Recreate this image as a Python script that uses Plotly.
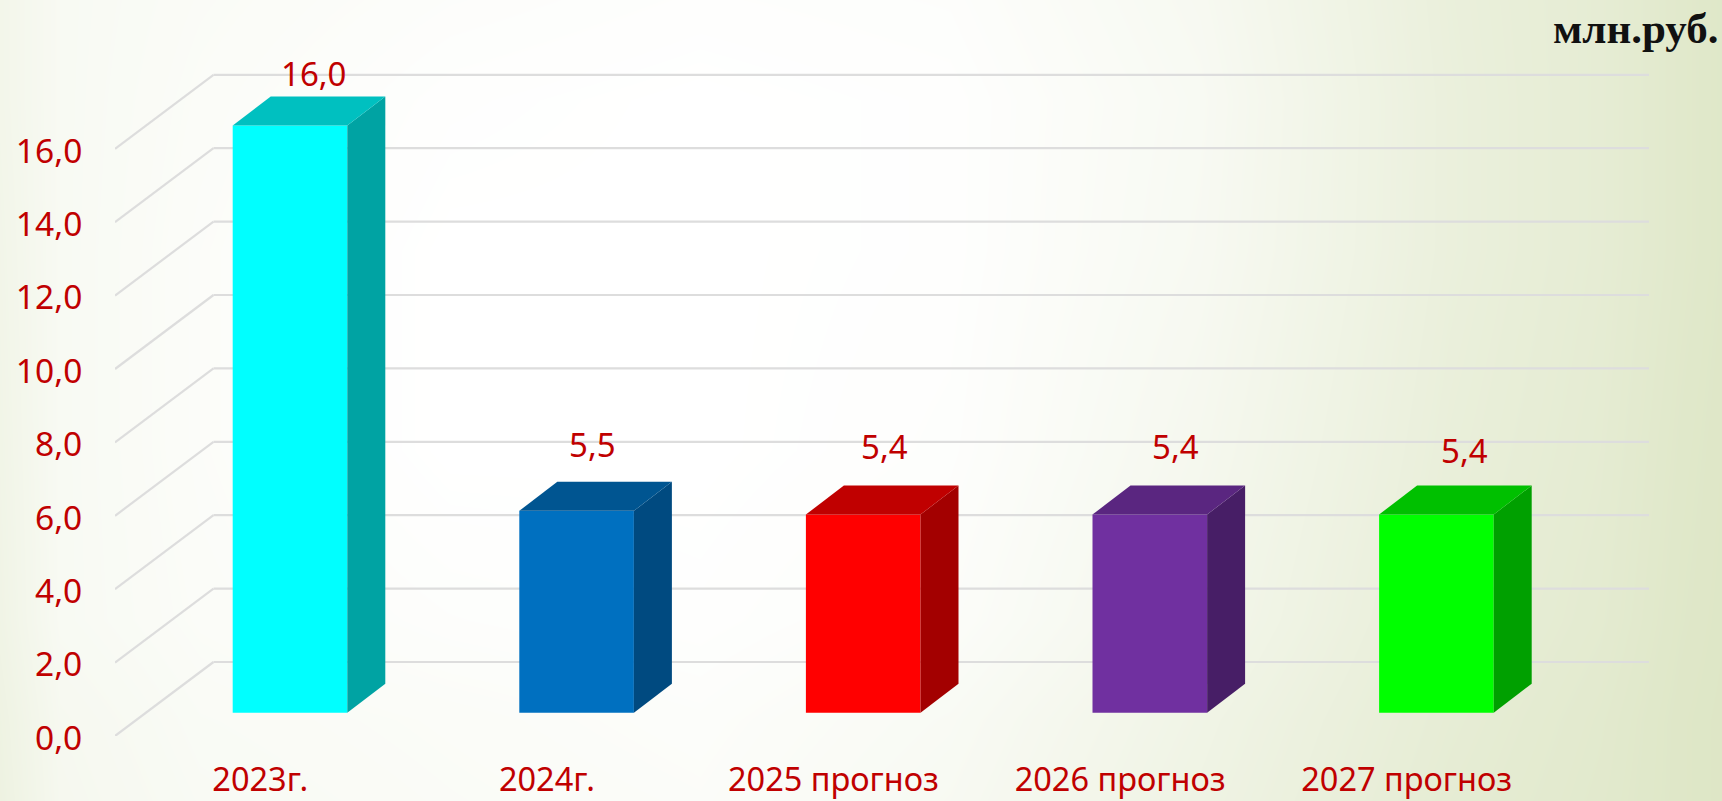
import plotly.graph_objects as go

# ---- data ----
categories = ["2023г.", "2024г.", "2025 прогноз", "2026 прогноз", "2027 прогноз"]
values = [16.0, 5.5, 5.4, 5.4, 5.4]
value_labels = ["16,0", "5,5", "5,4", "5,4", "5,4"]
y_ticks = [0, 2, 4, 6, 8, 10, 12, 14, 16]
y_tick_labels = ["0,0", "2,0", "4,0", "6,0", "8,0", "10,0", "12,0", "14,0", "16,0"]

# ---- styles ----
front_colors = ["#00ffff", "#0070c0", "#ff0000", "#7030a0", "#00ff00"]
top_colors = ["#00c0c0", "#005591", "#c00000", "#5a2680", "#00c000"]
side_colors = ["#00a3a3", "#004a80", "#a30000", "#471e66", "#00a000"]
label_dx = [23, 16, 21, 26, 28]
label_dy = [52, 66, 68, 68, 64]
TEXT_RED = "#c00000"
FONT = "Noto Sans"
W, H = 1722, 801

# background tint levels (0 = white, 1 = darkest green)
bg_x = [-60, 60, 200, 450, 700, 950, 1200, 1450, 1600, 1680, 1790]
bg_y = [-60, 100, 250, 450, 620, 720, 860]
bg_levels = [
    [0.50, 0.20, 0.15, 0.10, 0.06, 0.08, 0.25, 0.60, 0.72, 0.85, 1.00],
    [0.50, 0.20, 0.12, 0.03, 0.00, 0.03, 0.20, 0.58, 0.72, 0.85, 1.00],
    [0.55, 0.20, 0.10, 0.00, 0.00, 0.03, 0.22, 0.58, 0.72, 0.85, 1.00],
    [0.60, 0.20, 0.10, 0.00, 0.00, 0.05, 0.28, 0.62, 0.75, 0.88, 1.00],
    [0.65, 0.20, 0.12, 0.06, 0.03, 0.10, 0.34, 0.66, 0.78, 0.90, 1.00],
    [0.70, 0.25, 0.16, 0.12, 0.08, 0.18, 0.42, 0.70, 0.82, 0.92, 1.00],
    [0.75, 0.28, 0.20, 0.15, 0.12, 0.24, 0.48, 0.75, 0.85, 0.92, 1.00],
]

# ---- geometry of the pseudo-3D view, in axis units ----
AX_LEFT, AX_BOTTOM = 115, 736          # pixel position of the front plane origin
PX_X, PX_Y = 286.6, 36.7               # pixels per unit
WALL_DX, WALL_DY = 98.5 / PX_X, 74 / PX_Y
BAR_OX, BAR_OY = 31.7 / PX_X, 23.3 / PX_Y
BAR_W = 114.6 / PX_X
DEPTH_X, DEPTH_Y = 38 / PX_X, 29 / PX_Y
X0 = -0.5
X_WALL_END = X0 + (1649 - AX_LEFT) / PX_X

fig = go.Figure()

# background
fig.add_trace(go.Heatmap(
    x=bg_x, y=bg_y, z=bg_levels, zmin=0, zmax=1, zsmooth="best", showscale=False,
    colorscale=[[0, "#ffffff"], [1, "#dce5c3"]], hoverinfo="skip",
    xaxis="x", yaxis="y",
))

# front faces
fig.add_trace(go.Bar(
    x=[i + BAR_OX for i in range(len(values))], y=values, base=BAR_OY, width=BAR_W,
    marker=dict(color=front_colors, line=dict(width=0)), xaxis="x2", yaxis="y2",
    hoverinfo="skip", showlegend=False,
))

# side and top faces
for i, v in enumerate(values):
    xl = i + BAR_OX - BAR_W / 2
    xr = xl + BAR_W
    yb = BAR_OY
    yt = BAR_OY + v
    fig.add_trace(go.Scatter(
        x=[xr, xr + DEPTH_X, xr + DEPTH_X, xr, xr], y=[yb, yb + DEPTH_Y, yt + DEPTH_Y, yt, yb],
        mode="lines", fill="toself", fillcolor=side_colors[i], line=dict(width=0),
        xaxis="x2", yaxis="y2", hoverinfo="skip", showlegend=False,
    ))
    fig.add_trace(go.Scatter(
        x=[xl, xr, xr + DEPTH_X, xl + DEPTH_X, xl], y=[yt, yt, yt + DEPTH_Y, yt + DEPTH_Y, yt],
        mode="lines", fill="toself", fillcolor=top_colors[i], line=dict(width=0),
        xaxis="x2", yaxis="y2", hoverinfo="skip", showlegend=False,
    ))

# gridlines: side wall + back wall
shapes = []
grid_line = dict(color="#dddddd", width=2.2)
for t in y_ticks:
    shapes.append(dict(type="line", xref="x2", yref="y2", layer="below", line=grid_line,
                       x0=X0, y0=t, x1=X0 + WALL_DX, y1=t + WALL_DY))
    shapes.append(dict(type="line", xref="x2", yref="y2", layer="below", line=grid_line,
                       x0=X0 + WALL_DX, y0=t + WALL_DY, x1=X_WALL_END, y1=t + WALL_DY))

annotations = []
for i, v in enumerate(values):
    annotations.append(dict(
        xref="x2", yref="y2", x=i + BAR_OX, y=BAR_OY + v, xshift=label_dx[i], yshift=label_dy[i],
        text=value_labels[i], showarrow=False, xanchor="center", yanchor="middle",
        font=dict(family=FONT, size=33, color=TEXT_RED),
    ))
annotations.append(dict(
    xref="paper", yref="paper", x=1720 / W, y=1 - 29 / H, text="<b>млн.руб.</b>", showarrow=False,
    xanchor="right", yanchor="middle",
    font=dict(family="Liberation Serif", size=43, color="#111111"),
))

fig.update_layout(
    width=W, height=H, margin=dict(l=0, r=0, t=0, b=0, autoexpand=False),
    paper_bgcolor="#ffffff", plot_bgcolor="rgba(0,0,0,0)", showlegend=False,
    font=dict(family=FONT),
    shapes=shapes, annotations=annotations,
    xaxis=dict(domain=[0, 1], range=[0, W], visible=False, fixedrange=True),
    yaxis=dict(domain=[0, 1], range=[H, 0], visible=False, fixedrange=True),
    xaxis2=dict(
        domain=[AX_LEFT / W, 1], range=[X0, X0 + (W - AX_LEFT) / PX_X], anchor="y2",
        tickmode="array", tickvals=list(range(len(categories))), ticktext=categories,
        tickfont=dict(family=FONT, size=32.5, color=TEXT_RED),
        ticks="outside", ticklen=15, tickcolor="rgba(0,0,0,0)", showgrid=False, zeroline=False,
        showline=False, fixedrange=True, ticklabelshift=2,
    ),
    yaxis2=dict(
        domain=[(H - AX_BOTTOM) / H, 1], range=[0, AX_BOTTOM / PX_Y], anchor="x2",
        tickmode="array", tickvals=y_ticks, ticktext=y_tick_labels,
        tickfont=dict(family=FONT, size=33.5, color=TEXT_RED),
        ticks="outside", ticklen=25, tickcolor="rgba(0,0,0,0)", showgrid=False, zeroline=False,
        showline=False, fixedrange=True, ticklabelshift=2,
    ),
)

fig.write_html("out.html", config=dict(displayModeBar=False),
               post_script="document.body.style.margin='0';")
